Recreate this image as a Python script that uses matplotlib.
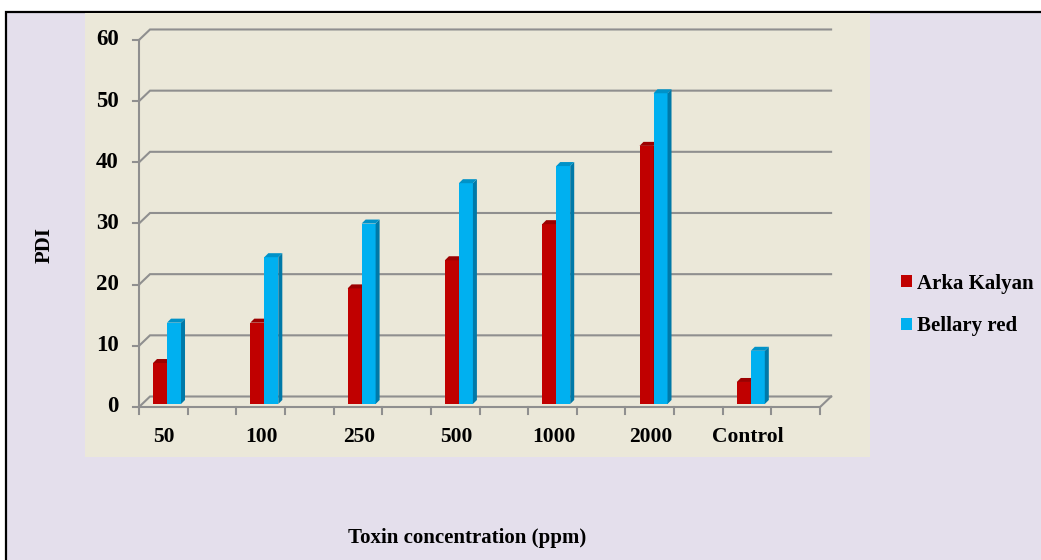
import matplotlib
matplotlib.use("Agg")
import matplotlib.pyplot as plt
from matplotlib.patches import Patch, Polygon, Rectangle

# data
categories = ['50', '100', '250', '500', '1000', '2000', 'Control']
arka_kalyan = [6.7, 13.3, 18.9, 23.5, 29.4, 42.2, 3.6]
bellary_red = [13.3, 24.0, 29.5, 36.1, 38.9, 50.8, 8.7]
yticks = [0, 10, 20, 30, 40, 50, 60]

W, H = 1041, 560
plt.rcParams['font.family'] = ['Liberation Serif', 'DejaVu Serif']
plt.rcParams['font.weight'] = 'bold'

fig = plt.figure(figsize=(W / 100, H / 100), dpi=100, facecolor='white')

# outer chart frame (lavender with black border at top / left)
frame = Rectangle((6 / W, -0.01), 1.01, (H - 12) / H + 0.01,
                  transform=fig.transFigure, facecolor='#e4dfec',
                  edgecolor='black', linewidth=1.6, zorder=-5)
fig.patches.append(frame)

# plot area 85..870 px wide, 13..457 px tall
ax = fig.add_axes([85 / W, (H - 457) / H, 785 / W, 444 / H], zorder=2)
ax.set_facecolor('#ebe8d9')
px_x = 97.3   # px per category
px_y = 6.117  # px per PDI unit
ax.set_xlim((85 - 139) / px_x, (870 - 139) / px_x)
ax.set_ylim((407 - 457) / px_y, (407 - 13) / px_y)
for s in ax.spines.values():
    s.set_visible(False)
ax.set_xticks([])
ax.set_yticks([])

grid_c = '#8f8f8f'
n = len(categories)
bdx, bdy = 11 / px_x, 10.5 / px_y   # back wall offset
xend = n

# back wall gridlines + left diagonals + front y ticks
for v in yticks:
    ax.plot([0, bdx, xend + bdx], [v, v + bdy, v + bdy], color=grid_c, lw=1.5, zorder=1,
            solid_joinstyle='miter')
    ax.plot([-6 / px_x, 0], [v, v], color=grid_c, lw=1.5, zorder=1)
    ax.text(-20 / px_x, v, str(v), ha='right', va='center', fontsize=16.5, fontweight='bold')

# front y axis, floor front edge, right diagonal
ax.plot([0, 0], [0, yticks[-1]], color=grid_c, lw=1.5, zorder=1)
ax.plot([0, xend, xend + bdx], [0, 0, bdy], color=grid_c, lw=1.5, zorder=1)
for k in range(2 * n + 1):
    ax.plot([k / 2, k / 2], [0, -7 / px_y], color=grid_c, lw=1.5, zorder=1)

# 3d-looking bars
bw = 14 / px_x
ddx, ddy = 4 / px_x, 4 / px_y
base = 3 / px_y
series = [(arka_kalyan, 0.144, '#c00000', '#8a0000', '#9c0000'),
          (bellary_red, 0.144 + bw, '#00b0f0', '#0079a8', '#0092c8')]
for vals, off, front, side, top in series:
    xs = [i + off for i in range(n)]
    ax.bar(xs, vals, width=bw, bottom=base, align='edge', color=front, zorder=3)
    for x, v in zip(xs, vals):
        t = base + v
        ax.add_patch(Polygon([(x + bw, base), (x + bw + ddx, base + ddy),
                              (x + bw + ddx, t + ddy), (x + bw, t)],
                             closed=True, facecolor=side, edgecolor='none', zorder=3))
        ax.add_patch(Polygon([(x, t), (x + bw, t), (x + bw + ddx, t + ddy), (x + ddx, t + ddy)],
                             closed=True, facecolor=top, edgecolor='none', zorder=3))

# category labels
for i, c in enumerate(categories):
    ax.text(i + 0.26, -30 / px_y, c, ha='center', va='center', fontsize=15.5, fontweight='bold')

# axis titles
fig.text(45 / W, 1 - 245 / H, 'PDI', rotation=90, ha='center', va='center',
         fontsize=15, fontweight='bold')
fig.text(467 / W, 1 - 538 / H, 'Toxin concentration (ppm)', ha='center', va='center',
         fontsize=15, fontweight='bold')

# legend
handles = [Patch(facecolor='#c00000', edgecolor='none'),
           Patch(facecolor='#00b0f0', edgecolor='none')]
fig.legend(handles, ['Arka Kalyan', 'Bellary red'], loc='center left',
           bbox_to_anchor=(882 / W, 1 - 305 / H), frameon=False,
           prop={'family': 'Liberation Serif', 'weight': 'bold', 'size': 15},
           handlelength=0.55, handleheight=0.55, handletextpad=0.25, labelspacing=1.1)

fig.savefig('out.png', dpi=100, facecolor='white')
